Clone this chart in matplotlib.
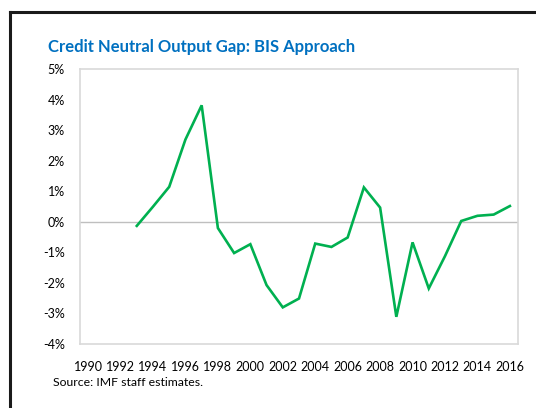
import matplotlib
matplotlib.use("Agg")
import matplotlib.pyplot as plt
from matplotlib.lines import Line2D

# Axis categories and the series
axis_years = list(range(1990, 2017))
tick_years = list(range(1990, 2017, 2))
years = list(range(1993, 2017))
gap = [-0.13, 0.50, 1.15, 2.70, 3.82, -0.20, -1.02, -0.73, -2.07, -2.80,
       -2.51, -0.71, -0.82, -0.51, 1.13, 0.47, -3.11, -0.67, -2.18, -1.12,
       0.03, 0.20, 0.24, 0.52]
y_ticks = [5, 4, 3, 2, 1, 0, -1, -2, -3, -4]

plt.rcParams['font.family'] = ['Lato', 'DejaVu Sans']

fig = plt.figure(figsize=(5.36, 4.08), dpi=100)
W, H = 536, 408

# Frame around the exhibit (top and left edges)
fig.add_artist(Line2D([10 / W, 1.0], [1 - 12 / H, 1 - 12 / H],
                      transform=fig.transFigure, color='#1a1a1a', lw=2.2))
fig.add_artist(Line2D([10 / W, 10 / W], [0.0, 1 - 12 / H],
                      transform=fig.transFigure, color='#1a1a1a', lw=2.2))

ax = fig.add_axes([80 / W, 1 - 344 / H, (518 - 80) / W, (344 - 69.3) / H])

xpos = [axis_years.index(y) for y in years]
ax.axhline(0, color='#BFBFBF', lw=1.0, zorder=1)
ax.plot(xpos, gap, color='#00B050', lw=1.9, solid_joinstyle='miter', zorder=3)

ax.set_xlim(-0.5, len(axis_years) - 0.5)
ax.set_ylim(-4, 5)
ax.set_yticks(y_ticks)
ax.set_yticklabels([f"{v}%" for v in y_ticks])
ax.set_xticks([axis_years.index(y) for y in tick_years])
ax.set_xticklabels([str(y) for y in tick_years])
ax.tick_params(axis='both', length=0, labelsize=9, colors='#000000')
ax.tick_params(axis='y', pad=11)
ax.tick_params(axis='x', pad=12)
for s in ax.spines.values():
    s.set_color('#D9D9D9')
    s.set_linewidth(1.2)

fig.text(48 / W, 1 - 47 / H, "Credit Neutral Output Gap: BIS Approach",
         color='#0070C0', fontsize=12, fontweight='bold', va='center', ha='left')
fig.text(53 / W, 1 - 382 / H, "Source: IMF staff estimates.",
         color='#000000', fontsize=8.8, va='center', ha='left')

fig.savefig("out.png", dpi=100)
